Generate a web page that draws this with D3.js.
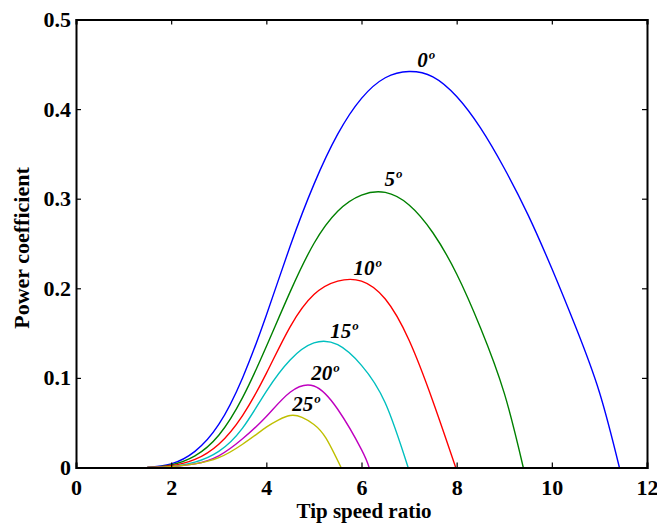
<!DOCTYPE html>
<html><head><meta charset="utf-8">
<script src="https://cdn.jsdelivr.net/npm/d3@7"></script>
<style>body{margin:0;background:#fff}svg{display:block}</style>
</head><body>
<svg id="c" width="657" height="523"></svg>
<script>
const xTicks = [0,2,4,6,8,10,12];
const yTicks = [0,0.1,0.2,0.3,0.4,0.5];
const s0 = [[1.5,0],[2.0,0.004],[2.5,0.018],[3.0,0.048],[3.5,0.100],[4.0,0.170],[4.5,0.247],[5.0,0.316],[5.5,0.372],[6.0,0.412],[6.5,0.435],[7.0,0.442],[7.5,0.436],[8.0,0.414],[8.5,0.379],[9.0,0.334],[9.5,0.282],[10.0,0.222],[10.5,0.157],[11.0,0.084],[11.42,0]];
const s5 = [[1.5,0],[2.0,0.003],[2.5,0.013],[3.0,0.036],[3.5,0.078],[4.0,0.135],[4.5,0.196],[5.0,0.250],[5.5,0.286],[6.0,0.304],[6.5,0.307],[7.0,0.293],[7.5,0.262],[8.0,0.216],[8.5,0.156],[9.0,0.083],[9.4,0]];
const s10 = [[1.5,0],[2.0,0.002],[2.5,0.009],[3.0,0.026],[3.5,0.058],[4.0,0.105],[4.5,0.157],[5.0,0.193],[5.5,0.208],[6.0,0.208],[6.5,0.188],[7.0,0.142],[7.5,0.074],[7.98,0]];
const s15 = [[1.5,0],[2.0,0.001],[2.5,0.006],[3.0,0.018],[3.5,0.044],[4.0,0.085],[4.5,0.120],[5.0,0.139],[5.5,0.137],[6.0,0.114],[6.5,0.072],[6.98,0]];
const s20 = [[1.5,0],[2.0,0.001],[2.5,0.004],[3.0,0.013],[3.5,0.032],[4.0,0.057],[4.5,0.084],[5.0,0.091],[5.5,0.065],[6.0,0.020],[6.16,0]];
const s25 = [[1.5,0],[2.0,0.001],[2.5,0.004],[3.0,0.011],[3.5,0.026],[4.0,0.045],[4.25,0.053],[4.5,0.058],[4.75,0.056],[5.0,0.048],[5.25,0.033],[5.57,0]];
const labels = ["0\u00ba","5\u00ba","10\u00ba","15\u00ba","20\u00ba","25\u00ba"];
const labelPos = [[7.35,0.447],[6.66,0.314],[6.12,0.215],[5.63,0.1445],[5.23,0.0977],[4.83,0.063]];

const series = [s0,s5,s10,s15,s20,s25];
const colors = ["#0000ff","#008000","#ff0000","#00bfbf","#bf00bf","#bfbf00"];

const L=76, R=647, T=19.5, B=467.5;
const svg = d3.select("#c");
const x = d3.scaleLinear().domain([0,12]).range([L,R]);
const y = d3.scaleLinear().domain([0,0.5]).range([B,T]);
const font = "'Liberation Serif','Times New Roman',serif";

svg.append("clipPath").attr("id","clip").append("rect")
  .attr("x",L).attr("y",T).attr("width",R-L).attr("height",B-T);

const line = d3.line().x(d=>x(d[0])).y(d=>y(d[1])).curve(d3.curveNatural);
const gLines = svg.append("g").attr("clip-path","url(#clip)");
series.forEach((s,i)=>{
  gLines.append("path").attr("d",line(s)).attr("fill","none")
    .attr("stroke",colors[i]).attr("stroke-width",1.4);
});

const tk = 5;
const gB = svg.append("g").attr("transform",`translate(0,${B})`).call(d3.axisBottom(x).tickValues(xTicks).tickSize(-tk).tickPadding(12).tickFormat(d3.format("d")));
const gT = svg.append("g").attr("transform",`translate(0,${T})`).call(d3.axisTop(x).tickValues(xTicks).tickSize(-tk).tickFormat(""));
const gL = svg.append("g").attr("transform",`translate(${L},0)`).call(d3.axisLeft(y).tickValues(yTicks).tickSize(-tk).tickPadding(5).tickFormat(d=>d===0?"0":d3.format(".1f")(d)));
const gR = svg.append("g").attr("transform",`translate(${R},0)`).call(d3.axisRight(y).tickValues(yTicks).tickSize(-tk).tickFormat(""));
[gB,gT,gL,gR].forEach(g=>{
  g.select(".domain").attr("stroke","#000").attr("stroke-width",2);
  g.selectAll(".tick line").attr("stroke","#000").attr("stroke-width",1.2);
  g.selectAll("text").attr("font-family",font).attr("font-weight","bold").attr("font-size",22).attr("fill","#000");
});
gB.selectAll(".tick text").attr("dy","0.71em");

labels.forEach((t,i)=>{
  svg.append("text").attr("x",x(labelPos[i][0])).attr("y",y(labelPos[i][1]))
    .attr("text-anchor","middle").attr("font-family",font).attr("font-weight","bold")
    .attr("font-style","italic").attr("font-size",21).text(t);
});

svg.append("text").attr("x",364).attr("y",518).attr("text-anchor","middle")
  .attr("font-family",font).attr("font-weight","bold").attr("font-size",21).text("Tip speed ratio");
svg.append("text").attr("transform",`translate(29,248) rotate(-90)`).attr("text-anchor","middle")
  .attr("font-family",font).attr("font-weight","bold").attr("font-size",22).text("Power coefficient");
</script>
</body></html>
